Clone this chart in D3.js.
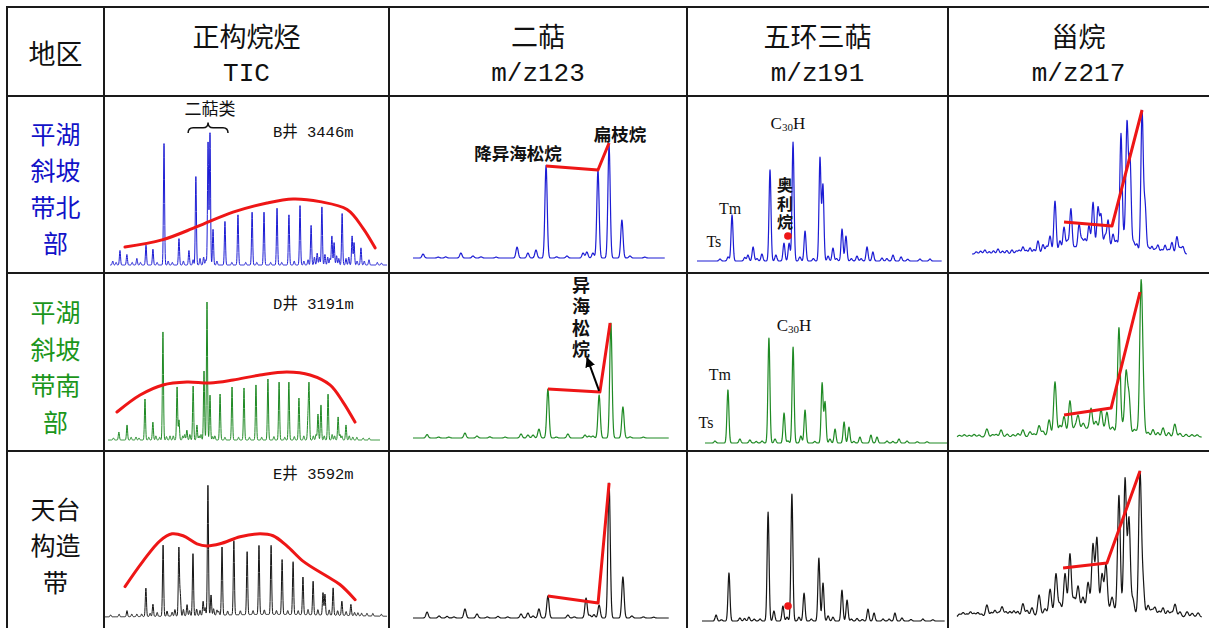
<!DOCTYPE html>
<html>
<head>
<meta charset="utf-8">
<script src="https://d3js.org/d3.v7.min.js"></script>
<style>
  body { margin: 0; background: #fff; }
  svg { display: block; }
</style>
</head>
<body>
<svg id="chart" width="1209" height="628"></svg>
<script>
// ---- table text ----
const headerTop = ["地区", "正构烷烃", "二萜", "五环三萜", "甾烷"];
const headerSub = ["", "TIC", "m/z123", "m/z191", "m/z217"];
const rowLabels = [["平湖", "斜坡", "带北", "部"], ["平湖", "斜坡", "带南", "部"], ["天台", "构造", "带"]];
const wellLabels = ["B井 3446m", "D井 3191m", "E井  3592m"];

// ---- chromatogram peaks: [retention (0-100), relative intensity (0-100), optional width] ----
const ticNorth = [[1,3],[2.2,2],[3.6,11],[6.1,8],[8,2],[9.7,5],[11,2],[13,15],[15.5,12],[17,2],[19.5,92],[21,3],[22.5,2],[24.9,20],[26.5,3],[28.5,11],[30,4],[31,67],[32.5,5],[33.8,6],[34.6,4],[35.4,93],[36.1,100],[37.2,27],[38.6,3],[41.5,33],[44,2],[46.2,38],[49,2],[51.3,40],[53,2],[55.6,40],[58,2],[60.3,43],[62,2],[64.6,38],[66.5,3],[68.6,45],[70,3],[71.5,4],[72.6,30],[73.8,6],[74.8,9],[75.6,6],[76.5,44],[77.6,8],[78.6,6],[79.4,5],[80.1,22],[80.9,17],[81.8,7],[82.6,5],[83.8,39],[85.2,5],[86.2,6],[87.4,22],[88.1,17],[89.2,3],[90.6,13],[91.8,3],[93.5,4],[96.5,2],[98,1.5]];
const ticSouth = [[2,1.5],[4,5.8],[7,10.9],[8.5,2],[10.3,2.2],[11.4,1.5],[13.6,29.7],[15,2],[16.5,13],[17.6,3],[19,2],[20.2,78.3],[21.5,2.5],[22.8,3],[24,3],[25.4,38.4],[26.1,14.5],[27.5,3],[28.2,4],[29,7.2],[30.1,4],[31.3,39.1],[32.7,10.9],[33.5,3],[34.2,4],[35.3,50],[36.4,100],[37.5,32.6],[38.5,2.5],[39.3,3],[41.2,33.3],[43,2],[45.6,38.4],[48,2],[50,37.7],[52,2],[54.4,39.9],[56.5,2],[58.8,44.2],[61,2.5],[62.9,42],[65,2],[66.5,42],[68.5,2.5],[70.2,30.4],[72,3],[73.5,14],[73.9,39.9],[75.5,3],[76.5,4],[77.2,18.8],[78.3,25.4],[79.5,3],[80.9,33.3],[82.4,4],[83.3,3],[84.6,16.7],[85.3,4],[86,3],[87.5,10.9],[88.7,3],[90,2.2],[91.5,2],[93.8,1.5],[96,1.5]];
const ticTiantai = [[2,1.5],[5,2],[7.8,4.7],[9.5,2],[11.3,2],[13,2],[14.5,21.9],[16,2.5],[17,9.4],[18.5,3],[20.6,54.7],[22,4],[23.8,3],[24.8,5],[26.2,52.3],[26.7,16],[27.8,5],[29.1,8.6],[30,4],[31.2,47.7],[32.5,5],[33.7,4],[34.8,10.9],[35.5,6],[36.5,100],[37.6,15.6],[38.5,5],[39.7,4],[40.3,3],[41.5,52.3],[43.5,3],[45.7,57],[48,3],[50.4,48.4],[52.5,3],[54.6,53.1],[56.5,3.5],[58.9,53.1],[60.8,3],[62.8,42.2],[64.8,3],[66.7,40.6],[68.5,3],[70.2,28.9],[72,4],[73.8,25.8],[75.5,4],[77.3,17.2],[78,16],[79.5,4],[80.9,21],[82.5,3.5],[84,10.9],[85.5,3],[87.2,8.6],[88.5,2.5],[89.7,2.3],[91,2],[92.9,2],[95,2],[98,1.5],[60,2,25]];

const diterpNorth = [[4,3.5],[10,0.8],[13,1],[19,4.4],[23.8,1.8],[27,1],[33,0.8],[41.3,9.7],[45.6,4.4],[48.8,7],[52.8,82],[57,1],[61.1,1.8],[67.5,4.4],[69,5.3],[71.4,4.4],[73.4,78],[77.8,100],[82.9,33.6],[86.1,1.8],[92,0.8]];
const diterpSouth = [[5.5,3],[10,0.8],[14,0.8],[20.3,4.3],[25,1.7],[30,1],[36,0.8],[42.2,3.5],[44.9,2.6],[46.9,2.6],[49.2,7.8],[52.7,42.6],[56,0.8],[60.5,3.5],[67.2,2.6],[68.8,1.7],[70.3,1.7],[72.7,37.4],[77.3,100],[82,27],[84.8,1],[90,0.8]];
const diterpTiantai = [[5.5,4.4],[10.2,1.5],[13.3,1.2],[16,0.8],[20.3,6.7],[25,3],[29,0.8],[33.2,1.2],[37,0.8],[42.2,3],[44.9,3.7],[46.9,1.5],[49.2,6.7],[52.7,16.3],[60.5,2.2],[63,0.8],[67.6,14.8],[69.1,2],[70.7,2.5],[72.7,9.6],[76.6,100],[82,30.4],[85.5,1.5],[90,0.8],[94,0.6]];

const hopNorth = [[9.4,1.7],[12.7,3.4],[14.3,38.7],[19.5,3],[20.8,5],[22.9,11.8],[24.5,2],[26.5,5.9],[29.8,76.5],[32.2,5],[35.5,15],[37.6,15],[39.2,100],[42,3.4],[44.1,25.2],[47.5,2],[50.2,86.6],[51.4,63.9],[53.5,4.2],[55.5,10.9],[57,2],[59.2,26.9],[60.8,21],[63,2],[65.3,4.2],[67,2],[69.4,11.8],[71.8,7.6],[75.5,2.5],[77.5,2],[80,5],[83.3,3.4],[86,1.5],[91,1.7],[95.1,1.7]];
const hopSouth = [[4.1,1.9],[9.4,50.5],[14.3,3.8],[18.4,2.9],[21,1.5],[23.4,1.9],[26.2,100],[28.7,3.8],[32.4,28.6],[34,2],[36.1,91.4],[39.3,6.7],[41,31.4],[45,1.5],[48,57.1],[49.2,39],[51.2,3.8],[53.3,13.3],[57,20],[59,15.2],[61,1.5],[63.5,5.7],[68,7.6],[70.5,5.7],[74.6,1.9],[77,1.5],[79.5,3.8],[82.8,1.9],[87,1.2],[91,1.2]];
const hopTiantai = [[5.8,4.7],[8,1],[11.1,37.8],[15.6,2.4],[17.5,2],[19.3,3.1],[21.5,1.5],[23.9,1.6],[27.2,85.8],[29.6,7.9],[33.3,11.8],[35,3],[37,100],[39.9,3],[42,22],[45,1.5],[48.1,49.6],[49.8,29.9],[51.9,4],[53.9,3],[57.6,24.4],[59.7,16.5],[61.5,1.5],[63.8,2],[66,1.2],[68.3,9.4],[70.8,6.3],[74.5,1.6],[77,1.5],[79.4,6.3],[82.3,2.4],[86,1.2],[90.9,1.6],[95,1]];

const sterNorth = [[2,1.5],[4,2],[6,2.8],[8,1.6],[10,2.2],[12.1,3.5],[14.2,2],[16.2,2.4],[18.6,2.8],[20.6,2],[22,2.6],[23.7,4.9],[25.3,2.5],[27,4.2],[28.8,3],[30.7,9],[33,6.3],[34.7,5],[36.3,12],[38.6,36],[40.9,8],[42.8,17],[44.4,7],[46,29],[47.9,2],[49.8,17],[51.2,6],[52.6,6],[54.4,15],[56.3,31],[58.6,27],[60,22],[61.9,8],[63.3,19],[65.6,10],[67.2,6],[69.3,81],[70.8,8],[72.1,88],[73.5,64],[75.2,7],[76.7,6],[79.1,98],[80.5,33],[82.2,4],[83.7,5],[85.2,3],[86.5,6],[88.2,3],[89.8,6],[91.4,3],[93,8],[95.3,12],[96.8,4],[98.1,5],[58,5,10]];
const sterSouth = [[1,1.2],[3,1.6],[5,1.2],[7,1.8],[9,1.4],[12.2,5.6],[14.5,1.6],[16,1.8],[18,4.9],[20.5,2],[22.9,1.6],[24.9,2.3],[26.9,4.9],[29.8,3.5],[31.5,2],[33.5,7.6],[35.1,3.5],[37.6,11],[40,36.8],[42,5.8],[43.7,11.5],[46.1,21.5],[48.2,3],[49.4,10],[51.5,4],[54.7,14],[56.7,5],[58.8,13.5],[61.2,12.5],[63.5,3],[66.1,73],[67.6,5],[69,42],[70.2,26],[72.3,4],[73.5,3],[75.1,98],[75.9,28],[78,3],[80,5],[82,3],[84.1,6.3],[86.4,3],[88.9,9],[91,2.5],[93.5,1.8],[95.9,1.6],[98,1.5],[55,6,9]];
const sterTiantai = [[1,2],[2.5,3],[4,2],[5.5,3.5],[7,2.5],[8.5,3],[10,2],[12.2,8.3],[14,3],[15.5,4.5],[17,3],[18.4,6.9],[20,3.5],[21.6,3.6],[23.2,4],[24.8,3.5],[26.9,8.8],[28.6,4],[30.6,5.6],[33.5,14],[35.9,4],[38,17],[40.4,27],[42,6],[44.1,26],[46.1,39],[47.8,8],[49.4,16],[51.4,8],[53.5,18],[55.5,44],[57.1,48.5],[59.2,24],[60.8,31],[63.3,9],[66.1,80],[68.6,92],[70.2,65],[71.8,10],[74.7,97],[75.9,22],[78,7],[79.5,4],[80.8,6],[82.5,3.5],[84.1,6],[86,4],[87.5,3],[89,8.7],[91,3.5],[93.9,3.6],[96,2.5],[98.4,2.8],[55,6,12]];

// ---- red guide curves / lines: [retention, intensity] ----
const ticNorthEnv = [[5.4,13.6],[18.8,19],[31.4,29],[44.4,40],[56.7,47],[66.1,50],[75.8,48],[85.6,42],[91.3,28],[95.7,13]];
const ticSouthEnv = [[3.3,20.3],[11.8,32.6],[20.2,39.9],[29,42],[37.5,41.3],[46,43.5],[55.9,47.1],[65.8,49.3],[74.3,47.1],[81.6,39.9],[86.4,27.5],[90.8,13]];
const ticTiantaiEnv = [[7.1,23.4],[13.5,43],[19.5,58.6],[23.8,64],[27.7,62.5],[32.6,56.3],[36.2,54.7],[40.8,56.3],[47.9,61.7],[55,64],[59.6,62.5],[64.5,54.7],[70.2,43],[78.7,31.3],[83.3,25],[88.7,13.3]];
const diterpNorthLine = [[52.8,81.4],[73.4,77.9],[77.8,101.8]];
const diterpSouthLine = [[52.7,42.6],[73,40],[77,100]];
const diterpTiantaiLine = [[52.7,16.3],[72.3,11.1],[76.6,100]];
const sterNorthLine = [[42.8,22.2],[65.1,19.4],[79.1,100]];
const sterSouthLine = [[43.7,15.3],[62.9,20.1],[74.7,100.7]];
const sterTiantaiLine = [[43.3,33.8],[61.2,37.2],[74.7,100.7]];
const oleananeDots = [[37.1, 21], [35.4, 11.8]];

// ---- layout ----
const W = 1209, H = 628;
const colX = [7, 104, 389, 687, 948, 1209];
const rowY = [7, 96, 273, 451, 628];
const rowText = ["#1212c8", "#1b961b", "#111"];
const rowTrace = ["#1c1cd4", "#1f8a24", "#161616"];
const RED = "#ee1616";
const cjk = "'Noto Sans CJK SC', sans-serif";
const mono = "'Liberation Mono', 'Noto Sans CJK SC', monospace";
const serif = "'Liberation Serif', 'Noto Sans CJK SC', serif";

// plot frame of every cell: baseline start/end, baseline y, height of intensity 100
const frames = [
  [{x0:110,x1:387,base:265,h:132},{x0:413,x1:665,base:258,h:113},{x0:697,x1:942,base:261,h:119},{x0:972,x1:1187,base:254,h:144}],
  [{x0:108,x1:380,base:440,h:138},{x0:413,x1:669,base:438,h:115},{x0:705,x1:949,base:443,h:105},{x0:957,x1:1202,base:437,h:144}],
  [{x0:105,x1:387,base:617,h:130},{x0:413,x1:669,base:618,h:135},{x0:702,x1:945,base:621,h:127},{x0:957,x1:1202,base:617,h:145}]
];

const panels = [
  {r:0,c:0,peaks:ticNorth,sigma:0.2,env:ticNorthEnv},
  {r:1,c:0,peaks:ticSouth,sigma:0.2,env:ticSouthEnv},
  {r:2,c:0,peaks:ticTiantai,sigma:0.2,env:ticTiantaiEnv},
  {r:0,c:1,peaks:diterpNorth,sigma:0.45,line:diterpNorthLine},
  {r:1,c:1,peaks:diterpSouth,sigma:0.45,line:diterpSouthLine},
  {r:2,c:1,peaks:diterpTiantai,sigma:0.45,line:diterpTiantaiLine},
  {r:0,c:2,peaks:hopNorth,sigma:0.4,dot:oleananeDots[0]},
  {r:1,c:2,peaks:hopSouth,sigma:0.4},
  {r:2,c:2,peaks:hopTiantai,sigma:0.4,dot:oleananeDots[1]},
  {r:0,c:3,peaks:sterNorth,sigma:0.55,line:sterNorthLine},
  {r:1,c:3,peaks:sterSouth,sigma:0.55,line:sterSouthLine},
  {r:2,c:3,peaks:sterTiantai,sigma:0.55,line:sterTiantaiLine}
];

const svg = d3.select("#chart");
svg.append("rect").attr("width", W).attr("height", H).attr("fill", "#fff");

svg.append("defs").append("marker")
  .attr("id", "arrow").attr("viewBox", "0 0 10 10").attr("refX", 9).attr("refY", 5)
  .attr("markerWidth", 5).attr("markerHeight", 5).attr("orient", "auto")
  .append("path").attr("d", "M0,0 L10,5 L0,10 Z").attr("fill", "#000");

function scalesFor(r, c) {
  const f = frames[r][c];
  return {
    x: d3.scaleLinear().domain([0, 100]).range([f.x0, f.x1]),
    y: d3.scaleLinear().domain([0, 100]).range([f.base, f.base - f.h])
  };
}

// chromatogram traces
panels.forEach(p => {
  const {x, y} = scalesFor(p.r, p.c);
  const step = p.sigma / 3;
  const ts = [];
  for (let t = 0; t <= 100; t += step) ts.push(t);
  p.peaks.forEach(d => ts.push(d[0]));
  ts.sort((a, b) => a - b);
  const pts = ts.map(t => {
    let v = 0;
    p.peaks.forEach(d => {
      const s = d[2] || p.sigma;
      const z = (t - d[0]) / s;
      if (Math.abs(z) < 7) v += d[1] * Math.exp(-0.5 * z * z);
    });
    return [t, v];
  });
  svg.append("path")
    .attr("d", d3.line().x(d => x(d[0])).y(d => y(d[1]))(pts))
    .attr("fill", "none")
    .attr("stroke", rowTrace[p.r])
    .attr("stroke-width", p.c === 0 ? 1 : 1.2)
    .attr("stroke-linejoin", "round");

  if (p.env) {
    svg.append("path")
      .attr("d", d3.line().curve(d3.curveCatmullRom).x(d => x(d[0])).y(d => y(d[1]))(p.env))
      .attr("fill", "none").attr("stroke", RED).attr("stroke-width", 3).attr("stroke-linecap", "round");
  }
  if (p.line) {
    svg.append("path")
      .attr("d", d3.line().x(d => x(d[0])).y(d => y(d[1]))(p.line))
      .attr("fill", "none").attr("stroke", RED).attr("stroke-width", 3)
      .attr("stroke-linejoin", "round");
  }
  if (p.dot) {
    svg.append("circle").attr("cx", x(p.dot[0])).attr("cy", y(p.dot[1])).attr("r", 3.8).attr("fill", RED);
  }
});

// annotations (positions in each panel's data units)
function label(r, c, txt, ux, uy, opt) {
  const {x, y} = scalesFor(r, c);
  return svg.append("text")
    .attr("x", x(ux)).attr("y", y(uy))
    .attr("text-anchor", opt.anchor || "middle")
    .attr("dominant-baseline", "central")
    .style("font-family", opt.family || cjk)
    .style("font-size", (opt.size || 16) + "px")
    .style("font-weight", opt.weight || "normal")
    .attr("fill", "#111")
    .text(txt);
}
// vertical (top-to-bottom) label as one text run
function vlabel(r, c, txt, ux, uy, size, gap) {
  const {x, y} = scalesFor(r, c);
  svg.append("text")
    .attr("x", x(ux)).attr("y", y(uy) - size / 2)
    .attr("writing-mode", "vertical-rl")
    .style("writing-mode", "vertical-rl")
    .style("letter-spacing", gap + "px")
    .style("font-family", cjk).style("font-size", size + "px").style("font-weight", "bold")
    .attr("fill", "#111")
    .text(txt);
}
function c30h(r, c, ux, uy) {
  const {x, y} = scalesFor(r, c);
  const t = svg.append("text").attr("x", x(ux)).attr("y", y(uy)).attr("text-anchor", "middle")
    .attr("dominant-baseline", "central")
    .style("font-family", serif).style("font-size", "17px").attr("fill", "#111");
  t.append("tspan").text("C");
  t.append("tspan").attr("dy", 4).style("font-size", "11px").text("30");
  t.append("tspan").attr("dy", -4).text("H");
}

// well names in TIC cells
label(0, 0, wellLabels[0], 58.8, 100, {anchor: "start", family: mono, size: 15.5});
label(1, 0, wellLabels[1], 60.7, 97.8, {anchor: "start", family: mono, size: 15.5});
label(2, 0, wellLabels[2], 59.6, 109.4, {anchor: "start", family: mono, size: 15.5});

// 二萜类 with brace
label(0, 0, "二萜类", 36.1, 119, {size: 17});
{
  const {x, y} = scalesFor(0, 0);
  const xl = x(28.2), xr = x(42.6), xm = x(35.4), yb = y(100), yt = y(108), ym = (yb + yt) / 2;
  const p = d3.path();
  p.moveTo(xl, yb);
  p.quadraticCurveTo(xl, ym, xl + 5, ym);
  p.lineTo(xm - 5, ym);
  p.quadraticCurveTo(xm, ym, xm, yt);
  p.quadraticCurveTo(xm, ym, xm + 5, ym);
  p.lineTo(xr - 5, ym);
  p.quadraticCurveTo(xr, ym, xr, yb);
  svg.append("path").attr("d", p.toString()).attr("fill", "none").attr("stroke", "#111").attr("stroke-width", 1.5);
}

// diterpane labels
label(0, 1, "降异海松烷", 41.7, 93.8, {size: 17.5, weight: "bold"});
label(0, 1, "扁枝烷", 82.1, 110.6, {size: 17.5, weight: "bold"});
vlabel(1, 1, "异海松烷", 65.6, 133, 18, 3.5);
{
  const {x, y} = scalesFor(1, 1);
  svg.append("line")
    .attr("x1", x(72.7)).attr("y1", y(40.9)).attr("x2", x(68)).attr("y2", y(69.6))
    .attr("stroke", "#000").attr("stroke-width", 2).attr("marker-end", "url(#arrow)");
}

// hopane labels
c30h(0, 2, 37.1, 116);
label(0, 2, "Tm", 13.5, 44.5, {family: serif, size: 16});
label(0, 2, "Ts", 6.9, 16.8, {family: serif, size: 16});
vlabel(0, 2, "奥利烷", 35.9, 63.9, 16, 2.5);
c30h(1, 2, 36.5, 112.4);
label(1, 2, "Tm", 6.1, 65.7, {family: serif, size: 16});
label(1, 2, "Ts", 0.4, 20, {family: serif, size: 16});

// ---- table grid ----
const grid = svg.append("g").attr("stroke", "#1a1a1a").attr("stroke-width", 2);
rowY.slice(0, 4).forEach(yv => grid.append("line").attr("x1", colX[0] - 1).attr("x2", W).attr("y1", yv).attr("y2", yv));
colX.slice(0, 5).forEach(xv => grid.append("line").attr("x1", xv).attr("x2", xv).attr("y1", rowY[0] - 1).attr("y2", H));

// headers
headerTop.forEach((t, i) => {
  const cx = (colX[i] + colX[i + 1]) / 2;
  svg.append("text").attr("x", cx).attr("y", i === 0 ? 52 : 35)
    .attr("text-anchor", "middle").attr("dominant-baseline", "central")
    .style("font-family", cjk).style("font-size", "27px").attr("fill", "#111").text(t);
  if (headerSub[i]) {
    svg.append("text").attr("x", cx).attr("y", 74)
      .attr("text-anchor", "middle").attr("dominant-baseline", "central")
      .style("font-family", mono).style("font-size", "26px").attr("fill", "#111").text(headerSub[i]);
  }
});

// row labels, wrapped into stacked lines around each row's centre
const rowCentre = [187.5, 366, 544];
const rowFont = 25, rowLead = 36.5;
rowLabels.forEach((lines, r) => {
  const cx = (colX[0] + colX[1]) / 2;
  const y0 = rowCentre[r] - (lines.length - 1) * rowLead / 2;
  lines.forEach((ln, i) => {
    svg.append("text").attr("x", cx).attr("y", y0 + i * rowLead)
      .attr("text-anchor", "middle").attr("dominant-baseline", "central")
      .style("font-family", cjk).style("font-size", rowFont + "px").attr("fill", rowText[r]).text(ln);
  });
});
</script>
</body>
</html>
